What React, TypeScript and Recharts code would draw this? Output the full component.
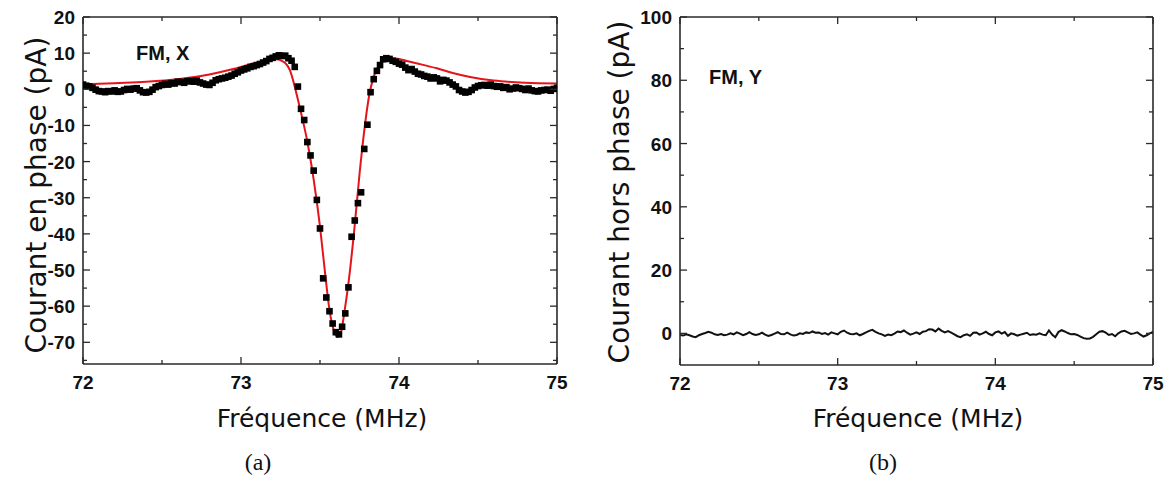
import React from 'react';
import { ComposedChart, XAxis, YAxis, Scatter, Line } from 'recharts';

// ---------- data ----------
const FREQ_MAJOR = [72, 73, 74, 75];
const FREQ_MINOR = [72.5, 73.5, 74.5];
const INPHASE_MAJOR = [-70, -60, -50, -40, -30, -20, -10, 0, 10, 20];
const INPHASE_MINOR = [-75, -65, -55, -45, -35, -25, -15, -5, 5, 15];
const OUTPHASE_MAJOR = [0, 20, 40, 60, 80, 100];
const OUTPHASE_MINOR = [10, 30, 50, 70, 90];

const SWEEP_START = 72;
const SWEEP_STEP = 0.02;

// measured in-phase current (pA), one value per sweep step
const X_MEASURED = [
  1.3, 1.0, 0.8, 0.4, -0.1, -0.5, -0.6, -0.8, -0.5, -0.6,
  -0.3, -0.7, -0.6, -0.2, 0.1, -0.1, 0.2, 0.3, -0.3, -0.8,
  -0.9, -0.7, -0.1, 0.6, 0.9, 1.2, 1.5, 1.3, 1.7, 1.6,
  2.1, 2.0, 1.8, 2.2, 2.3, 2.1, 2.4, 1.9, 1.6, 1.3,
  1.2, 1.8, 2.5, 2.8, 3.0, 3.2, 3.5, 3.8, 4.3, 4.7,
  5.2, 5.5, 5.8, 6.2, 6.4, 6.7, 7.0, 7.4, 7.8, 8.4,
  8.7, 9.1, 9.4, 9.2, 9.3, 8.6, 7.9, 6.2, 0.75, -5.4,
  -8.5, -14.6, -18.3, -22.5, -30.6, -38.5, -52.3, -57.6, -61.4, -64.8,
  -67.2, -67.8, -65.7, -62.0, -54.8, -40.8, -36.3, -31.5, -28.5, -16.5,
  -9.8, -0.8, 2.8, 5.1, 6.7, 8.3, 8.6, 8.4, 7.9, 7.6,
  7.1, 6.8, 6.0, 5.3, 5.6, 4.9, 4.3, 4.1, 3.7, 3.5,
  3.0, 3.3, 3.0, 2.2, 2.6, 2.4, 1.9, 1.3, 0.8, -0.2,
  -0.6, -0.9, -0.7, -0.2, 0.5, 0.9, 1.1, 1.2, 1.0, 1.3,
  0.9, 0.7, 0.8, 0.4, 0.6, 0.0, 0.2, 0.5, 0.3, 0.1,
  -0.2, 0.2, -0.3, -0.5, -0.6, -0.3, -0.2, -0.1, -0.4, 0.1,
  0.4,
];

// fitted curve (pA)
const FIT_FREQ = [
  72.0, 72.2, 72.4, 72.6, 72.8, 72.95, 73.05, 73.15, 73.22, 73.27,
  73.31, 73.35, 73.38, 73.42, 73.46, 73.5, 73.53, 73.56, 73.59, 73.61,
  73.63, 73.66, 73.69, 73.72, 73.75, 73.78, 73.81, 73.84, 73.88, 73.93,
  73.98, 74.05, 74.13, 74.24, 74.34, 74.45, 74.6, 74.8, 75.0,
];
const FIT_VALUES = [
  1.3, 1.7, 2.1, 2.8, 4.1, 5.6, 6.8, 7.9, 8.3, 7.6,
  5.2, -1.0, -6.5, -14.5, -25, -38, -50, -61, -67, -68.5,
  -67.5, -60, -50, -37.5, -23.5, -11.5, -2, 3.5, 7, 8.4,
  8.5, 7.8, 7.0, 5.8, 4.5, 3.4, 2.4, 1.8, 1.6,
];

// measured out-of-phase current (pA)
const Y_MEASURED = [
  -0.5, -0.7, -0.3, -0.6, -1.0, -1.2, -0.6, -0.2, 0.1, 0.5,
  0.2, -0.3, -0.5, -0.2, -0.6, -0.4, 0.0, -0.3, 0.3, -0.1,
  -0.6, -0.2, 0.4, -0.2, -0.5, -0.3, 0.2, -0.4, -0.8, -0.5,
  -0.1, 0.4, -0.2, -0.3, 0.2, -0.3, -0.7, -0.5, 0.0, -0.2,
  0.3, 0.1, 0.6, 0.2, 0.3, -0.2, 0.1, -0.4, 0.3, 0.0,
  -0.3, 0.5, 0.9, 0.2, -0.2, -0.3, 0.0, -0.6, -0.2, 0.3,
  0.8, 1.1, 0.5, 0.0, -0.3, -0.8, -0.4, -0.6, -0.1, 0.6,
  0.4, 0.9, 0.2, -0.4, -0.1, 0.3, -0.2, 0.5, 0.7, 1.3,
  1.2, 0.6, 1.5, 0.8, 0.3, 0.7, 0.2, -0.3, -0.9, -1.2,
  -0.6, -0.3, -0.8, 0.2, 0.3, -0.4, 0.0, 0.5, -0.2, -0.6,
  0.3, 0.6, -0.1, 0.4, -0.8, 0.0, -0.3, -0.7, -0.4, -0.1,
  0.2, -0.5, -0.3, -0.4, 0.0, -0.4, -0.6, 0.9, -0.4, -1.2,
  0.4, 1.0, 0.6, 0.1, -0.3, -0.2, -0.5, -1.0, -1.5, -1.7,
  -1.6, -1.1, -0.3, 0.5, 0.7, 0.2, -0.5, -0.2, -0.9, 0.0,
  0.6, 0.8, 0.3, -0.2, 0.0, 0.3, -0.4, -1.0, -0.6, 0.0,
  0.5,
];

// ---------- derived tables ----------
const xScatter = X_MEASURED.map((v, i) => ({ f: SWEEP_START + i * SWEEP_STEP, v }));
const xFit = FIT_FREQ.map((f, i) => ({ f, v: FIT_VALUES[i] }));
const yLine = Y_MEASURED.map((v, i) => ({ f: SWEEP_START + i * SWEEP_STEP, v }));

const FREQ_TICKS = [...FREQ_MAJOR, ...FREQ_MINOR].sort((a, b) => a - b);
const INPHASE_TICKS = [...INPHASE_MAJOR, ...INPHASE_MINOR].sort((a, b) => a - b);
const OUTPHASE_TICKS = [...OUTPHASE_MAJOR, ...OUTPHASE_MINOR].sort((a, b) => a - b);

const AXIS_COLOR = '#2a2a2a';
const TICK_FONT = '"Liberation Sans", Arial, sans-serif';
const TITLE_FONT = '"DejaVu Sans", sans-serif';

type Side = 'bottom' | 'top' | 'left' | 'right';

function makeTick(side: Side, majors: number[], showLabel: boolean) {
  return (props: any) => {
    const { x, y, payload } = props;
    const v = payload.value;
    const major = majors.some((m) => Math.abs(m - v) < 1e-9);
    const len = major ? 7 : 4;
    let x2 = x;
    let y2 = y;
    if (side === 'bottom') y2 = y - len;
    if (side === 'top') y2 = y + len;
    if (side === 'left') x2 = x + len;
    if (side === 'right') x2 = x - len;
    let label = null;
    if (showLabel && major) {
      if (side === 'bottom') {
        label = (
          <text x={x} y={y + 25} textAnchor="middle" fontFamily={TICK_FONT} fontWeight="bold" fontSize={19} fill="#111">
            {v}
          </text>
        );
      } else if (side === 'left') {
        label = (
          <text x={x - 8} y={y + 7} textAnchor="end" fontFamily={TICK_FONT} fontWeight="bold" fontSize={19} fill="#111">
            {v}
          </text>
        );
      }
    }
    return (
      <g>
        <line x1={x} y1={y} x2={x2} y2={y2} stroke={AXIS_COLOR} strokeWidth={1.3} />
        {label}
      </g>
    );
  };
}

const axisLine = { stroke: AXIS_COLOR, strokeWidth: 1.6 };

const Square = (props: any) => {
  const { cx, cy } = props;
  if (cx == null || cy == null) return null;
  return <rect x={cx - 3.3} y={cy - 3.3} width={6.6} height={6.6} fill="#000" />;
};

function frameAxes(yDomain: [number, number], yTicks: number[], yMajors: number[]) {
  return [
    <XAxis
      key="xb"
      xAxisId="b"
      dataKey="f"
      type="number"
      domain={[72, 75]}
      ticks={FREQ_TICKS}
      interval={0}
      height={1}
      tickSize={0}
      tickMargin={0}
      tickLine={false}
      axisLine={axisLine}
      tick={makeTick('bottom', FREQ_MAJOR, true)}
      allowDataOverflow
    />,
    <XAxis
      key="xt"
      xAxisId="t"
      orientation="top"
      dataKey="f"
      type="number"
      domain={[72, 75]}
      ticks={FREQ_TICKS}
      interval={0}
      height={1}
      tickSize={0}
      tickMargin={0}
      tickLine={false}
      axisLine={axisLine}
      tick={makeTick('top', FREQ_MAJOR, false)}
      allowDataOverflow
    />,
    <YAxis
      key="yl"
      yAxisId="l"
      type="number"
      domain={yDomain}
      ticks={yTicks}
      interval={0}
      width={1}
      tickSize={0}
      tickMargin={0}
      tickLine={false}
      axisLine={axisLine}
      tick={makeTick('left', yMajors, true)}
      allowDataOverflow
    />,
    <YAxis
      key="yr"
      yAxisId="r"
      orientation="right"
      type="number"
      domain={yDomain}
      ticks={yTicks}
      interval={0}
      width={1}
      tickSize={0}
      tickMargin={0}
      tickLine={false}
      axisLine={axisLine}
      tick={makeTick('right', yMajors, false)}
      allowDataOverflow
    />,
  ];
}

export default function App() {
  return (
    <div
      style={{
        position: 'absolute',
        left: 0,
        top: 0,
        width: 1173,
        height: 495,
        background: '#fff',
        overflow: 'hidden',
      }}
    >
      <div style={{ position: 'absolute', left: 0, top: 0 }}>
        <ComposedChart width={590} height={400} margin={{ top: 16, right: 32, bottom: 35, left: 82 }}>
          {frameAxes([-76, 20], INPHASE_TICKS, INPHASE_MAJOR)}
          <Scatter
            xAxisId="b"
            yAxisId="l"
            data={xScatter}
            dataKey="v"
            shape={Square}
            isAnimationActive={false}
          />
          <Line
            xAxisId="b"
            yAxisId="l"
            data={xFit}
            dataKey="v"
            type="monotone"
            stroke="#e3141b"
            strokeWidth={2}
            dot={false}
            activeDot={false}
            isAnimationActive={false}
          />
        </ComposedChart>
      </div>
      <div style={{ position: 'absolute', left: 600, top: 0 }}>
        <ComposedChart width={573} height={400} margin={{ top: 16, right: 19, bottom: 34, left: 79 }}>
          {frameAxes([-10, 100], OUTPHASE_TICKS, OUTPHASE_MAJOR)}
          <Line
            xAxisId="b"
            yAxisId="l"
            data={yLine}
            dataKey="v"
            type="linear"
            stroke="#111"
            strokeWidth={2}
            dot={false}
            activeDot={false}
            isAnimationActive={false}
          />
        </ComposedChart>
      </div>
      <svg
        width={1173}
        height={495}
        style={{ position: 'absolute', left: 0, top: 0, pointerEvents: 'none' }}
      >
        <text x={136} y={60} fontFamily={TICK_FONT} fontWeight="bold" fontSize={20} fill="#111">
          FM, X
        </text>
        <text x={709} y={84} fontFamily={TICK_FONT} fontWeight="bold" fontSize={20} fill="#111">
          FM, Y
        </text>
        <text
          x={46}
          y={195}
          transform="rotate(-90 46 195)"
          textAnchor="middle"
          fontFamily={TITLE_FONT}
          fontSize={28}
          fill="#111"
        >
          Courant en phase (pA)
        </text>
        <text
          x={629}
          y={192}
          transform="rotate(-90 629 192)"
          textAnchor="middle"
          fontFamily={TITLE_FONT}
          fontSize={28}
          fill="#111"
        >
          Courant hors phase (pA)
        </text>
        <text x={322} y={427} textAnchor="middle" fontFamily={TITLE_FONT} fontSize={25} fill="#111">
          Fréquence (MHz)
        </text>
        <text x={918} y={427} textAnchor="middle" fontFamily={TITLE_FONT} fontSize={25} fill="#111">
          Fréquence (MHz)
        </text>
        <text x={258} y={470} textAnchor="middle" fontFamily='"Liberation Serif", serif' fontSize={24} fill="#111">
          (a)
        </text>
        <text x={883} y={470} textAnchor="middle" fontFamily='"Liberation Serif", serif' fontSize={24} fill="#111">
          (b)
        </text>
      </svg>
    </div>
  );
}
